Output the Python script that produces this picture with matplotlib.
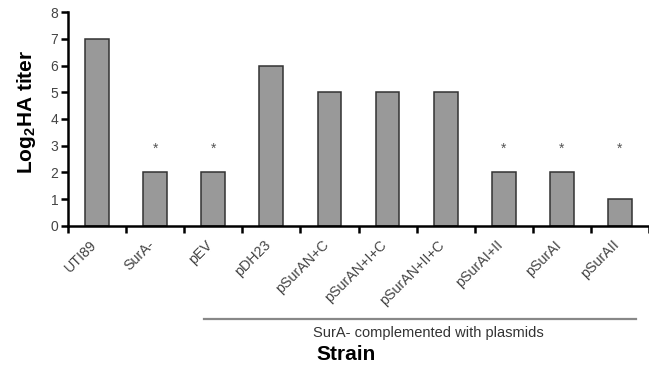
import numpy as np
import matplotlib.pyplot as plt
import matplotlib.transforms as mtransforms
from matplotlib.ticker import FixedLocator

plt.rcParams['font.family'] = ['Liberation Sans', 'DejaVu Sans']
plt.rcParams['mathtext.fontset'] = 'custom'
plt.rcParams['mathtext.bf'] = 'Liberation Sans:bold'

# data
strains = ['UTI89', 'SurA-', 'pEV', 'pDH23', 'pSurAN+C', 'pSurAN+I+C',
           'pSurAN+II+C', 'pSurAI+II', 'pSurAI', 'pSurAII']
titer = [7, 2, 2, 6, 5, 5, 5, 2, 2, 1]
signif = [False, True, True, False, False, False, False, True, True, True]

fig = plt.figure(figsize=(6.49, 3.68), dpi=100)
ax = fig.add_axes([68/649, 1-226/368, (649-68)/649, (226-12)/368])

x = np.arange(len(strains))
ax.bar(x, titer, width=0.41, color='#999999', edgecolor='#333333', linewidth=1.1, zorder=2)

# asterisks above the significant ones
for xi, s in zip(x, signif):
    if s:
        ax.text(xi, 2.9, '*', ha='center', va='center', fontsize=10, color='#555555')

ax.set_xlim(-0.5, len(strains) - 0.5)
ax.set_ylim(0, 8)
ax.set_yticks(range(0, 9))
ax.tick_params(axis='y', direction='out', length=5, width=1.8, labelsize=10,
               labelcolor='#444444', pad=2)

ax.set_xticks(x)
ax.set_xticklabels(strains, rotation=45, ha='right', va='center', rotation_mode='anchor',
                   fontsize=10.3, color='#444444')
ax.tick_params(axis='x', which='major', length=0, pad=12)
shift = mtransforms.ScaledTranslation(-3/100, 0, fig.dpi_scale_trans)
for lab in ax.get_xticklabels():
    lab.set_transform(lab.get_transform() + shift)
ax.xaxis.set_minor_locator(FixedLocator(np.arange(-0.5, len(strains), 1.0)))
ax.tick_params(axis='x', which='minor', direction='out', length=5, width=1.8)

for side in ['top', 'right']:
    ax.spines[side].set_visible(False)
for side in ['left', 'bottom']:
    ax.spines[side].set_linewidth(1.8)

fig.text(26/649, 1-112/368, 'Log$_\\mathbf{2}$HA titer', rotation=90, ha='center', va='center',
         fontsize=15, fontweight='bold')

# bracket for the complemented strains
fig.add_artist(plt.Line2D([204/649, 636/649], [1-319/368, 1-319/368], color='#888888', lw=1.6))
fig.text(428/649, 1-333/368, 'SurA- complemented with plasmids', ha='center', va='center',
         fontsize=10.5, color='#333333')
fig.text(346/649, 1-355/368, 'Strain', ha='center', va='center', fontsize=15,
         fontweight='bold')

fig.savefig('out.png', dpi=100)
